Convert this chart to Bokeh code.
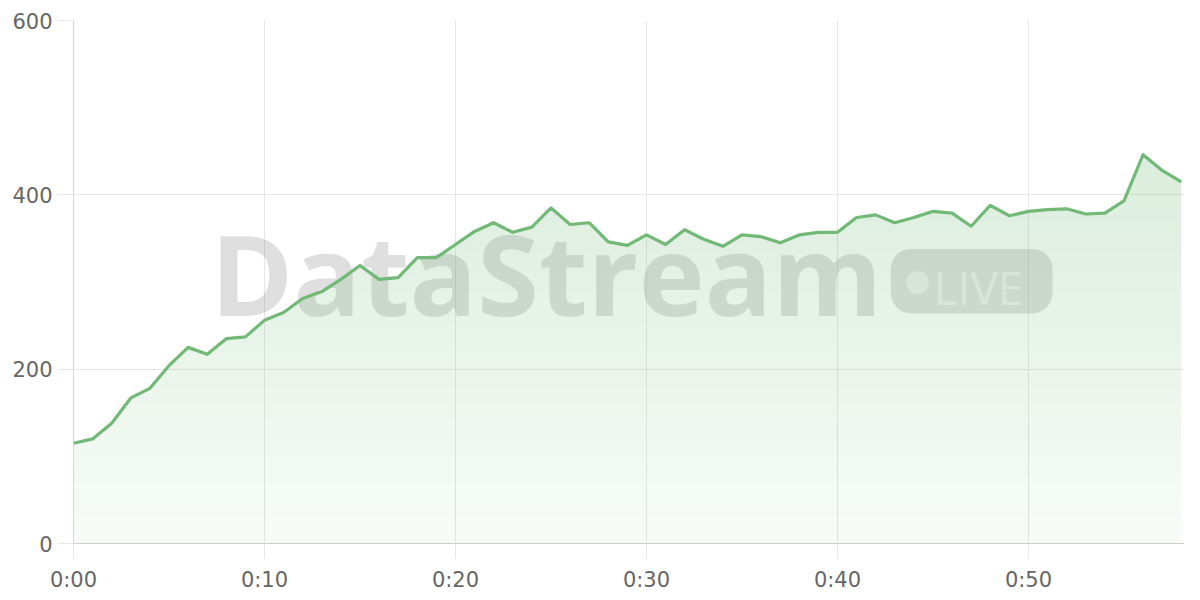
from bokeh.plotting import figure
from bokeh.models import Range1d, FixedTicker, ColumnDataSource
from bokeh.core.properties import value
from bokeh.embed import file_html
from bokeh.resources import INLINE

# ---- data ----
minutes = list(range(0, 59))
viewers = [115, 120, 138, 167, 178, 204, 225, 217, 235, 237,
           256, 265, 281, 289, 303, 319, 303, 305, 328, 328,
           343, 358, 368, 357, 363, 385, 366, 368, 346, 342,
           354, 343, 360, 349, 341, 354, 352, 345, 354, 357,
           357, 374, 377, 368, 374, 381, 379, 364, 388, 376,
           381, 383, 384, 378, 379, 393, 446, 428, 415]
x_ticks = [0, 10, 20, 30, 40, 50]
x_labels = ["0:00", "0:10", "0:20", "0:30", "0:40", "0:50"]
y_ticks = [0, 200, 400, 600]
watermark = "DataStream"
badge_text = "LIVE"

GREEN = "#72b977"
GRID = "#e6e6e6"
LABEL = "#666666"

p = figure(frame_width=1111, frame_height=523, output_backend="svg", toolbar_location=None,
           x_range=Range1d(0, 58.17), y_range=Range1d(0, 600),
           min_border_left=73, min_border_right=0, min_border_top=20, min_border_bottom=41)
p.outline_line_color = None
p.background_fill_color = "white"
p.border_fill_color = "white"

# watermark (behind data)
p.text(x=[7.17], y=[310.9], text=[watermark], text_font=value("Open Sans"),
       text_font_style="bold", text_font_size="112px", text_color="#7f7f7f",
       text_alpha=0.25, text_align="left", text_baseline="middle")
p.quad(left=[42.8], right=[51.26], bottom=[264], top=[338], fill_color="#7f7f7f",
       fill_alpha=0.25, line_color=None, border_radius=20)
p.scatter(x=[44.19], y=[299.4], size=23, fill_color="white", fill_alpha=0.5, line_color=None)
p.text(x=[45.03], y=[294.3], text=[badge_text], text_font=value("Open Sans"),
       text_font_size="46px", text_color="white", text_alpha=0.5,
       text_align="left", text_baseline="middle")

# vertical gradient area: non-overlapping bands, each clipped by the series
src = ColumnDataSource(dict(x=minutes, y=viewers))
step = 10
top = max(viewers)
b = 0
while b < top:
    lo = [min(v, b) for v in viewers]
    hi = [min(v, b + step) for v in viewers]
    alpha = 0.05 + 0.21 * ((b + step / 2) / 450.0)
    p.varea(x=minutes, y1=lo, y2=hi, fill_color=GREEN, fill_alpha=alpha)
    b += step

p.line(x="x", y="y", source=src, line_color=GREEN, line_width=3.2, line_join="round")

# axes & grids
p.xaxis.ticker = FixedTicker(ticks=x_ticks)
p.xaxis.major_label_overrides = {t: l for t, l in zip(x_ticks, x_labels)}
p.yaxis.ticker = FixedTicker(ticks=y_ticks)
p.xgrid.ticker = FixedTicker(ticks=x_ticks)
p.ygrid.ticker = FixedTicker(ticks=y_ticks)
p.grid.grid_line_color = GRID
p.grid.grid_line_width = 1

for ax in (p.xaxis[0], p.yaxis[0]):
    ax.major_tick_out = 15
    ax.major_tick_in = 0
    ax.major_tick_line_color = GRID
    ax.minor_tick_line_color = None
    ax.major_label_text_font = "DejaVu Sans"
    ax.major_label_text_font_size = "21px"
    ax.major_label_text_color = LABEL
p.xaxis.axis_line_color = "#cfcfcf"
p.yaxis.axis_line_color = "#d5d5d5"
p.xaxis.major_label_standoff = 9
p.yaxis.major_label_standoff = 6

open("out.html", "w").write(file_html(p, INLINE))
